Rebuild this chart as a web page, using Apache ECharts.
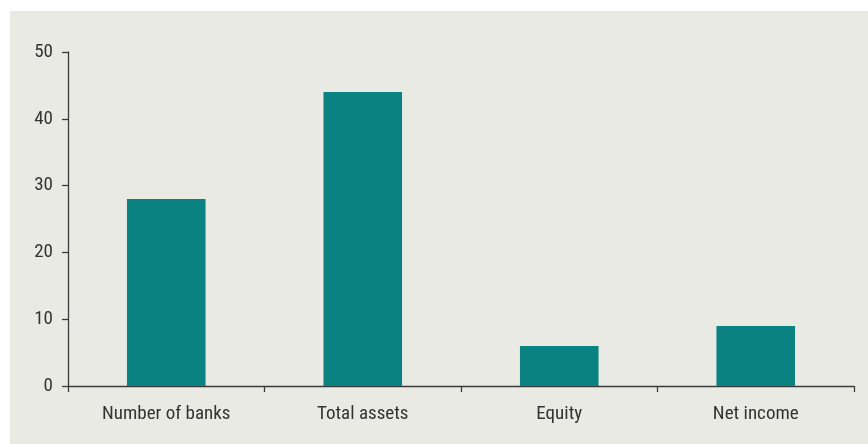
<!DOCTYPE html>
<html><head><meta charset="utf-8">
<script src="https://cdn.jsdelivr.net/npm/echarts@6/dist/echarts.min.js"></script>
<style>html,body{margin:0;padding:0;background:#fff;}#c{width:868px;height:444px;}</style>
</head><body><div id="c"></div>
<script>
var categories = ["Number of banks", "Total assets", "Equity", "Net income"];
var values = [28, 44, 6, 9];
var yTicks = [0, 10, 20, 30, 40, 50];
var font = '"Roboto Condensed", "Arial Narrow", Roboto, sans-serif';
var chart = echarts.init(document.getElementById('c'), null, {renderer: 'canvas'});
chart.setOption({
  animation: false,
  backgroundColor: '#ffffff',
  graphic: [{type: 'rect', z: -10, silent: true, shape: {x: 10, y: 11, width: 858, height: 433}, style: {fill: '#eaeae5'}}],
  grid: {left: 68, right: 14, top: 52, bottom: 58, containLabel: false},
  xAxis: {
    type: 'category', data: categories,
    axisLine: {lineStyle: {color: '#3a3a3a', width: 1.3}},
    axisTick: {show: true, length: 6, alignWithLabel: false, lineStyle: {color: '#3a3a3a', width: 1.3}},
    axisLabel: {color: '#333', fontSize: 19, fontFamily: font, margin: 19, interval: 0}
  },
  yAxis: {
    type: 'value', min: yTicks[0], max: yTicks[yTicks.length - 1], interval: 10,
    axisLine: {show: true, lineStyle: {color: '#3a3a3a', width: 1.3}},
    axisTick: {show: true, length: 6, lineStyle: {color: '#3a3a3a', width: 1.3}},
    splitLine: {show: false},
    axisLabel: {color: '#333', fontSize: 19, fontFamily: font, margin: 15}
  },
  series: [{
    type: 'bar', data: values, barWidth: '40%',
    itemStyle: {color: '#0a8282'}
  }]
});
</script></body></html>
